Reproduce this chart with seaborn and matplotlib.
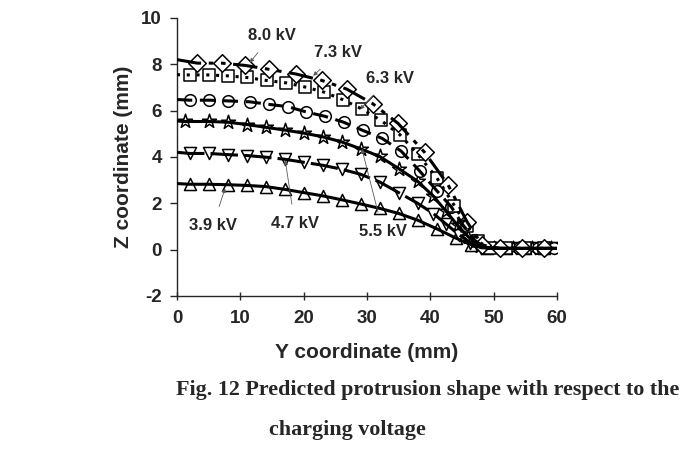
import pandas as pd
import seaborn as sns
import matplotlib.pyplot as plt

# marker data (Y coordinate mm, Z coordinate mm)
x_39 = [2, 5, 8, 11, 14, 17, 20, 23, 26, 29, 32, 35, 38, 41, 44, 46.5, 49, 52, 55, 58]
z_39 = [2.82, 2.82, 2.80, 2.77, 2.72, 2.60, 2.46, 2.32, 2.15, 1.97, 1.78, 1.56, 1.27, 0.90, 0.50, 0.20, 0.05, 0.05, 0.05, 0.05]

x_47 = [2, 5, 8, 11, 14, 17, 20, 23, 26, 29, 32, 35, 38, 40.5, 42.5, 44.5, 46.3, 48, 50.5, 53.5, 56.5, 59.5]
z_47 = [4.15, 4.15, 4.10, 4.06, 3.99, 3.90, 3.77, 3.64, 3.47, 3.25, 2.92, 2.46, 2.00, 1.55, 1.10, 0.65, 0.30, 0.08, 0.05, 0.05, 0.05, 0.05]

x_55 = [1.3, 5, 8, 11, 14, 17, 20, 23, 26, 29, 32, 35, 38, 40.5, 42.5, 44.3, 46, 47.8, 50, 53, 56, 59]
z_55 = [5.53, 5.53, 5.50, 5.40, 5.28, 5.16, 5.03, 4.87, 4.65, 4.35, 4.02, 3.50, 2.95, 2.30, 1.65, 1.05, 0.55, 0.15, 0.05, 0.05, 0.05, 0.05]

x_63 = [2, 5, 8, 11.5, 14.5, 17.5, 20.3, 23.4, 26.3, 29.3, 32.4, 35.4, 38.3, 41, 43.3, 45.2, 47, 48.7, 51, 54, 57, 59.5]
z_63 = [6.45, 6.45, 6.42, 6.38, 6.27, 6.17, 5.95, 5.75, 5.50, 5.15, 4.80, 4.25, 3.40, 2.55, 1.85, 1.05, 0.40, 0.08, 0.05, 0.05, 0.05, 0.05]

x_73 = [2, 5, 8, 11, 14.2, 17.2, 20.2, 23.2, 26.2, 29.2, 32.2, 35.2, 38, 41, 43.8, 45.8, 47.5, 49.5, 52, 55, 58]
z_73 = [7.54, 7.54, 7.50, 7.43, 7.30, 7.20, 7.02, 6.80, 6.47, 6.07, 5.58, 4.96, 4.12, 3.11, 1.90, 1.00, 0.35, 0.05, 0.05, 0.05, 0.05]

x_80 = [3.2, 7.1, 10.8, 14.6, 18.8, 22.9, 26.8, 30.9, 34.9, 39.1, 42.8, 45.8, 48.2, 51, 54.5, 58]
z_80 = [8.05, 8.05, 7.95, 7.78, 7.58, 7.30, 6.93, 6.30, 5.45, 4.20, 2.80, 1.20, 0.20, 0.05, 0.05, 0.05]

labels = ['3.9 kV', '4.7 kV', '5.5 kV', '6.3 kV', '7.3 kV', '8.0 kV']
line_start = [2.85, 4.20, 5.55, 6.48, 7.55, 8.20]   # curve value at Y = 0
line_end = [0.05, 0.05, 0.05, 0.05, 0.05, 0.05]     # curve value at Y = 60

# label text position and arrow target (data coords)
label_text = [(5.7, 1.05), (18.6, 1.14), (32.5, 0.8), (33.6, 7.4), (25.4, 8.5), (15.0, 9.25)]
label_target = [(7.6, 2.65), (17.1, 3.85), (29.2, 4.35), (28.9, 6.05), (21.5, 7.5), (11.5, 8.07)]

xs = [x_39, x_47, x_55, x_63, x_73, x_80]
zs = [z_39, z_47, z_55, z_63, z_73, z_80]
markers = ['^', 'v', '*', 'o', 's', 'D']
msizes = [75, 75, 110, 70, 70, 80]
dashes = ['-', (0, (9, 2)), '-', (0, (5, 2.5)), (0, (1, 2.2)), (0, (8, 2.5, 1.5, 2.5, 1.5, 2.5))]

sns.set_style('ticks')
plt.rcParams['font.family'] = ['Liberation Sans', 'DejaVu Sans']
plt.rcParams['font.weight'] = 'bold'
plt.rcParams['axes.unicode_minus'] = False

fig = plt.figure(figsize=(6.94, 4.49), dpi=100)
ax = fig.add_axes([0.255, 0.341, 0.5475, 0.619])

for i, lab in enumerate(labels):
    pts = pd.DataFrame({'y': xs[i], 'z': zs[i]})
    sns.scatterplot(data=pts, x='y', y='z', marker=markers[i], s=msizes[i],
                    facecolor='white', edgecolor='black', linewidth=1.1, ax=ax, zorder=2)
    line = pd.DataFrame({'y': [0] + xs[i] + [60], 'z': [line_start[i]] + zs[i] + [line_end[i]]})
    sns.lineplot(data=line, x='y', y='z', color='black', lw=2.2, linestyle=dashes[i],
                 sort=False, estimator=None, ax=ax, zorder=3)
    ax.annotate(lab, xy=label_target[i], xytext=label_text[i], ha='center', va='center',
                fontsize=12, fontweight='bold',
                arrowprops=dict(arrowstyle='-|>', lw=0.6, color='0.35', mutation_scale=6,
                                shrinkA=6, shrinkB=0))

ax.set_xlim(0, 60)
ax.set_ylim(-2, 10)
ax.set_xticks(range(0, 61, 10))
ax.set_yticks(range(-2, 11, 2))
ax.tick_params(axis='x', direction='inout', length=6, width=1, labelsize=13.5, pad=7)
ax.tick_params(axis='y', direction='out', length=5, width=1, labelsize=13.5, pad=6)
for t in ax.get_xticklabels() + ax.get_yticklabels():
    t.set_fontweight('bold')
ax.set_xlabel('Y coordinate (mm)', fontsize=15, fontweight='bold', labelpad=12)
ax.set_ylabel('Z coordinate (mm)', fontsize=15, fontweight='bold', labelpad=6)
sns.despine(ax=ax)
ax.spines['left'].set_linewidth(1)
ax.spines['bottom'].set_linewidth(1)

fig.text(0.254, 0.131, 'Fig. 12 Predicted protrusion shape with respect to the',
         family=['Liberation Serif', 'DejaVu Serif'], fontsize=15.8, fontweight='bold', va='center')
fig.text(0.388, 0.042, 'charging voltage',
         family=['Liberation Serif', 'DejaVu Serif'], fontsize=15.8, fontweight='bold', va='center')

fig.savefig('out.png', dpi=100)
